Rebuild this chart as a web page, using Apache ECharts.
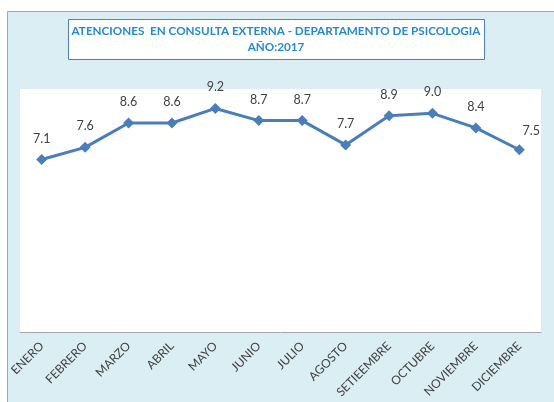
<!DOCTYPE html>
<html>
<head>
<meta charset="utf-8">
<script src="https://cdn.jsdelivr.net/npm/echarts@6/dist/echarts.min.js"></script>
<style>
  html, body { margin: 0; padding: 0; background: #fff; }
  #main { width: 554px; height: 402px; }
</style>
</head>
<body>
<div id="main"></div>
<script>
const months = ['ENERO', 'FEBRERO', 'MARZO', 'ABRIL', 'MAYO', 'JUNIO', 'JULIO',
  'AGOSTO', 'SETIEEMBRE', 'OCTUBRE', 'NOVIEMBRE', 'DICIEMBRE'];
const atenciones = [7.1, 7.6, 8.6, 8.6, 9.2, 8.7, 8.7, 7.7, 8.9, 9.0, 8.4, 7.5];
const titleLines = ['ATENCIONES  EN CONSULTA EXTERNA - DEPARTAMENTO DE PSICOLOGIA', 'AÑO:2017'];

const chart = echarts.init(document.getElementById('main'), null, { renderer: 'canvas' });

const seriesData = atenciones.map(function (v, i) {
  // last label sits to the right of the point in the original
  if (i === atenciones.length - 1) {
    return { value: v, label: { offset: [12, 2] } };
  }
  return v;
});

const option = {
  animation: false,
  backgroundColor: '#ffffff',
  graphic: [
    {
      type: 'rect',
      z: -10,
      shape: { x: 7.5, y: 11.5, width: 560, height: 400 },
      style: { fill: '#dbeef4', stroke: '#a6a6a6', lineWidth: 1 }
    },
    {
      type: 'rect',
      z: 10,
      shape: { x: 68.5, y: 19.5, width: 416, height: 40 },
      style: { fill: '#ffffff', stroke: '#4f81bd', lineWidth: 1 }
    },
    {
      type: 'text',
      z: 11,
      x: 276,
      y: 39,
      style: {
        text: titleLines.join('\n'),
        fill: '#2589d6',
        font: 'bold 11.7px Lato',
        lineHeight: 16,
        align: 'center',
        verticalAlign: 'middle'
      }
    }
  ],
  grid: {
    left: 20,
    right: 13,
    top: 89,
    bottom: 70,
    show: true,
    backgroundColor: '#ffffff',
    borderWidth: 0
  },
  xAxis: {
    type: 'category',
    data: months,
    boundaryGap: true,
    axisLine: { lineStyle: { color: '#a6a6a6', width: 1 } },
    axisTick: { show: false },
    axisLabel: {
      rotate: 45,
      interval: 0,
      margin: 12,
      color: '#404040',
      fontFamily: 'Lato',
      fontSize: 12
    }
  },
  yAxis: {
    type: 'value',
    min: 0,
    max: 10,
    show: false,
    splitLine: { show: false }
  },
  series: [{
    type: 'line',
    data: seriesData,
    symbol: 'diamond',
    symbolSize: 11,
    lineStyle: { color: '#4a7ebb', width: 3 },
    itemStyle: { color: '#4a7ebb' },
    label: {
      show: true,
      position: 'top',
      distance: 9,
      color: '#404040',
      fontFamily: 'Lato',
      fontSize: 12.5,
      formatter: function (p) { return p.value.toFixed(1); }
    }
  }]
};

chart.setOption(option);
</script>
</body>
</html>
